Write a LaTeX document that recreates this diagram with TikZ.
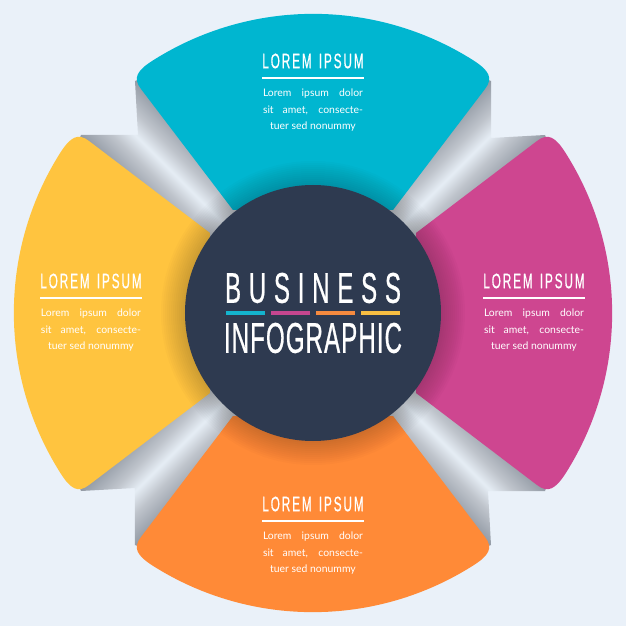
\documentclass[tikz,border=0pt]{standalone}
\usepackage{fontspec}
\setmainfont{Lato}
\newfontfamily\headfont[FakeStretch=0.56,FakeBold=0.6]{Liberation Sans}
\definecolor{pagebg}{HTML}{EAF1F9}
\definecolor{tealpetal}{HTML}{00B6D0}
\definecolor{pinkpetal}{HTML}{CE4690}
\definecolor{orangepetal}{HTML}{FF8A37}
\definecolor{yellowpetal}{HTML}{FFC43F}
\definecolor{hubdark}{HTML}{2E3A50}
\definecolor{barteal}{HTML}{14B4CE}
\definecolor{barpink}{HTML}{C5468F}
\definecolor{barorange}{HTML}{F58A3F}
\definecolor{baryellow}{HTML}{F8BE42}
\pgfdeclareverticalshading{flapshade}{100bp}{rgb(0bp)=(.58,.61,.65);rgb(39bp)=(.58,.61,.65);rgb(45.5bp)=(.75,.77,.80);rgb(50bp)=(.90,.93,.96);rgb(54.5bp)=(.75,.77,.80);rgb(61bp)=(.58,.61,.65);rgb(100bp)=(.58,.61,.65)}
\newcommand{\petal}[2]{\fill[#2,rotate=#1] (-80,103) -- (-172,224) .. controls (-180.5,235) and (-176,242.5) .. (-160,252.6) arc (122.4:57.6:299) .. controls (176,242.5) and (180.5,235) .. (172,224) -- (80,103) -- cycle;}
\newcommand{\flap}[1]{\begin{scope}[rotate=#1]
\clip (-170,235) -- (-178,232) -- (-175,178) -- (-232,178) -- (-235,170) -- (-90,60) -- (-60,90) -- cycle;
\shade[shading=flapshade,shading angle=#1-45] (-236,59) rectangle (-59,236);
\end{scope}}
\newcommand{\bodylines}{\makebox[100pt][s]{Lorem ipsum dolor}\\\makebox[100pt][s]{sit amet, consecte-}\\tuer sed nonummy}
\tikzset{
  headtext/.style={text=white,inner sep=0pt,font=\headfont\addfontfeature{LetterSpace=9}\fontsize{21}{21}\selectfont},
  bodytext/.style={text=white,inner sep=0pt,align=center,font=\fontsize{10.4}{16.4}\selectfont},
  hubtext/.style={text=white,inner sep=0pt},
}
\begin{document}
\begin{tikzpicture}[x=1pt,y=1pt]
\useasboundingbox (-313,-313) rectangle (313,313);
\fill[pagebg] (-313,-313) rectangle (313,313);
\foreach \a in {0,90,180,270} {\flap{\a}}
\petal{0}{tealpetal}
\petal{90}{yellowpetal}
\petal{180}{orangepetal}
\petal{270}{pinkpetal}
\foreach \r in {130,132,...,152} {\fill[black,opacity=.017] (0,0) circle (\r);}
\fill[hubdark] (0,0) circle (128);
\node[headtext] (topHead) at (0,252) {LOREM\hspace{2pt} IPSUM};
\fill[white] (-51,233.5) rectangle (51,235.5);
\node[bodytext,anchor=north] (topBody) at (0,224) {\bodylines};
\node[headtext] (leftHead) at (-222,32) {LOREM\hspace{2pt} IPSUM};
\fill[white] (-273,14) rectangle (-171,16);
\node[bodytext,anchor=north] (leftBody) at (-222,4) {\bodylines};
\node[headtext] (rightHead) at (221,32) {LOREM\hspace{2pt} IPSUM};
\fill[white] (170,14) rectangle (272,16);
\node[bodytext,anchor=north] (rightBody) at (221,4) {\bodylines};
\node[headtext] (bottomHead) at (0,-191) {LOREM\hspace{2pt} IPSUM};
\fill[white] (-51,-209) rectangle (51,-207);
\node[bodytext,anchor=north] (bottomBody) at (0,-219) {\bodylines};
\node[hubtext,font=\headfont\addfontfeature{LetterSpace=18}\fontsize{43}{43}\selectfont] (bizTitle) at (0,25) {BUSINESS};
\fill[barteal] (-87,-2) rectangle (-48,2);
\fill[barpink] (-42,-2) rectangle (-3,2);
\fill[barorange] (3,-2) rectangle (42,2);
\fill[baryellow] (48,-2) rectangle (87,2);
\node[hubtext,font=\headfont\addfontfeature{LetterSpace=2.5}\fontsize{43}{43}\selectfont] (infoTitle) at (0,-25) {INFOGRAPHIC};
\end{tikzpicture}
\end{document}
